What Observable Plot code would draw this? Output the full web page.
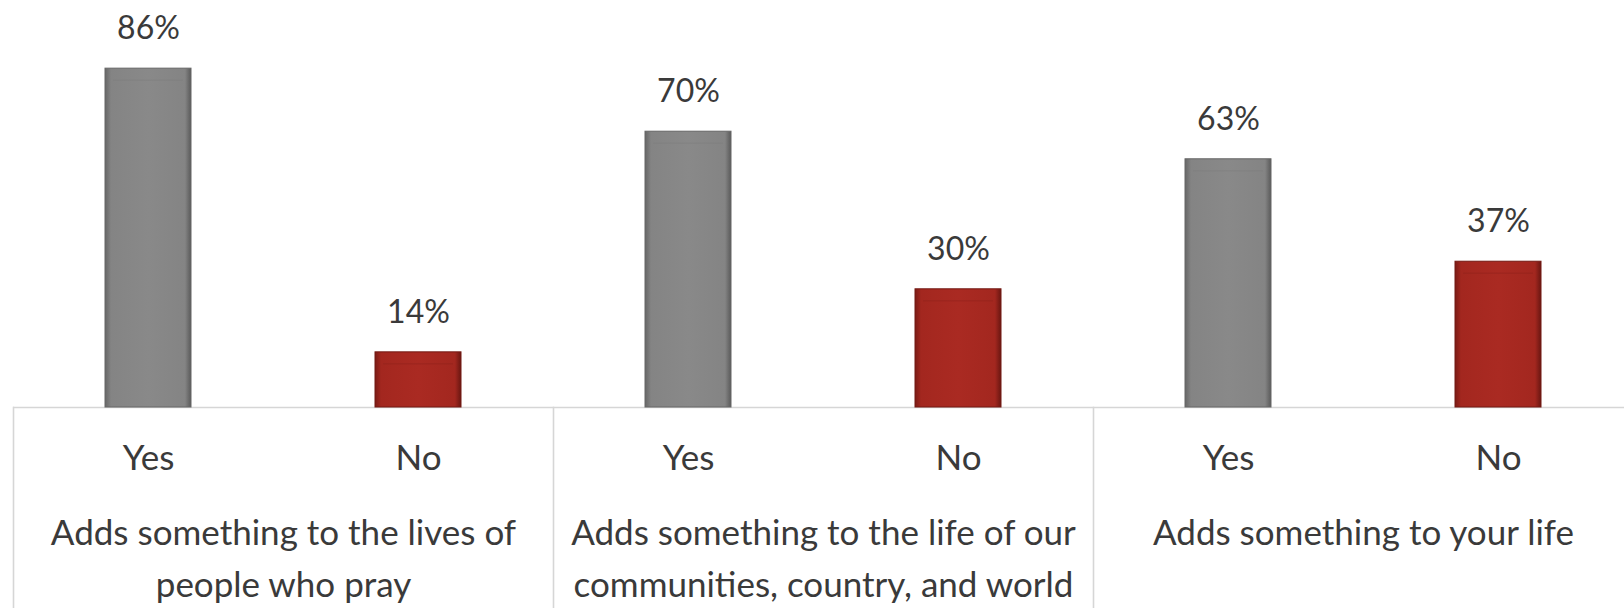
<!DOCTYPE html>
<html>
<head>
<meta charset="utf-8">
<script src="https://cdn.jsdelivr.net/npm/d3@7"></script>
<script src="https://cdn.jsdelivr.net/npm/@observablehq/plot@0.6"></script>
<style>
  html, body { margin: 0; padding: 0; background: #ffffff; }
  #chart { width: 1624px; height: 608px; overflow: hidden; }
  svg { display: block; }
</style>
</head>
<body>
<div id="chart"></div>
<script>
// ---- data ----
const groups = [
  "Adds something to the lives of people who pray",
  "Adds something to the life of our communities, country, and world",
  "Adds something to your life"
];
const groupLabels = [
  "Adds something to the lives of\npeople who pray",
  "Adds something to the life of our\ncommunities, country, and world",
  "Adds something to your life"
];
const answers = ["Yes", "No"];
const yesValues = [86, 70, 63];
const noValues = [14, 30, 37];

// ---- tables built from the arrays ----
const rows = [];
groups.forEach((g, i) => {
  rows.push({group: g, answer: answers[0], value: yesValues[i]});
  rows.push({group: g, answer: answers[1], value: noValues[i]});
});
const yesRows = rows.filter(d => d.answer === "Yes");
const noRows = rows.filter(d => d.answer === "No");
const groupRows = groups.map((g, i) => ({group: g, label: groupLabels[i]}));

const FONT = "Lato, 'Open Sans', sans-serif";
const TXT = "#3a3a3a";
const LINE = "#d6d6d6";

const plot = Plot.plot({
  width: 1624,
  height: 608,
  marginLeft: 13,
  marginRight: -9,
  marginTop: 407,
  marginBottom: 0,
  style: {fontFamily: FONT, fontSize: "32px", color: TXT, background: "#ffffff"},
  fx: {domain: groups, padding: 0, axis: null},
  x: {domain: answers, paddingInner: 0.68, paddingOuter: 0.34, axis: null},
  y: {domain: [0, 100], range: [407, 13], axis: null},
  marks: [
    Plot.frame({anchor: "left", stroke: LINE, strokeWidth: 1.6}),
    Plot.ruleY([0], {stroke: LINE, strokeWidth: 1.6}),
    Plot.barY(yesRows, {x: "answer", fx: "group", y: "value", fill: "url(#gYes)", stroke: "#666666", strokeWidth: 1}),
    Plot.barY(noRows, {x: "answer", fx: "group", y: "value", fill: "url(#gNo)", stroke: "#731913", strokeWidth: 1}),
    Plot.tickY(yesRows, {x: "answer", fx: "group", y: "value", stroke: "url(#tYes)", strokeWidth: 10, dy: 6, inset: 3}),
    Plot.tickY(noRows, {x: "answer", fx: "group", y: "value", stroke: "url(#tNo)", strokeWidth: 10, dy: 6, inset: 3}),
    Plot.tickY(yesRows, {x: "answer", fx: "group", y: "value", stroke: "#7a7a7a", strokeOpacity: 0.35, strokeWidth: 1.5, dy: 11.5, inset: 8}),
    Plot.tickY(noRows, {x: "answer", fx: "group", y: "value", stroke: "#8c2019", strokeOpacity: 0.35, strokeWidth: 1.5, dy: 11.5, inset: 8}),
    Plot.text(rows, {x: "answer", fx: "group", y: "value", text: d => d.value + "%", dy: -40, lineAnchor: "middle", fill: TXT, fontSize: 32}),
    Plot.text(rows, {x: "answer", fx: "group", text: "answer", frameAnchor: "top", dy: 51, lineAnchor: "middle", fill: TXT, fontSize: 35}),
    Plot.text(groupRows, {fx: "group", text: "label", frameAnchor: "top", dy: 101, lineAnchor: "top", lineHeight: 1.48, fill: TXT, fontSize: 35})
  ]
});

// gradient definitions for the bevelled bars
const defs = d3.select(plot).insert("defs", ":first-child");
function hGrad(id, stops) {
  const g = defs.append("linearGradient").attr("id", id)
    .attr("x1", "0").attr("x2", "1").attr("y1", "0").attr("y2", "0");
  stops.forEach(([o, c, a]) => g.append("stop").attr("offset", o).attr("stop-color", c).attr("stop-opacity", a == null ? 1 : a));
}
hGrad("gYes", [[0, "#666666"], [0.07, "#848484"], [0.5, "#898989"], [0.93, "#848484"], [1, "#5a5a5a"]]);
hGrad("gNo", [[0, "#7a1b15"], [0.07, "#a3271f"], [0.5, "#aa2a22"], [0.93, "#a3271f"], [1, "#6a1611"]]);
hGrad("tYes", [[0, "#9e9e9e", 0], [0.1, "#acacac", 1], [0.9, "#acacac", 1], [1, "#9e9e9e", 0]]);
hGrad("tNo", [[0, "#c2463c", 0], [0.1, "#c84b40", 0.95], [0.9, "#c84b40", 0.95], [1, "#c2463c", 0]]);

document.getElementById("chart").appendChild(plot);
</script>
</body>
</html>
